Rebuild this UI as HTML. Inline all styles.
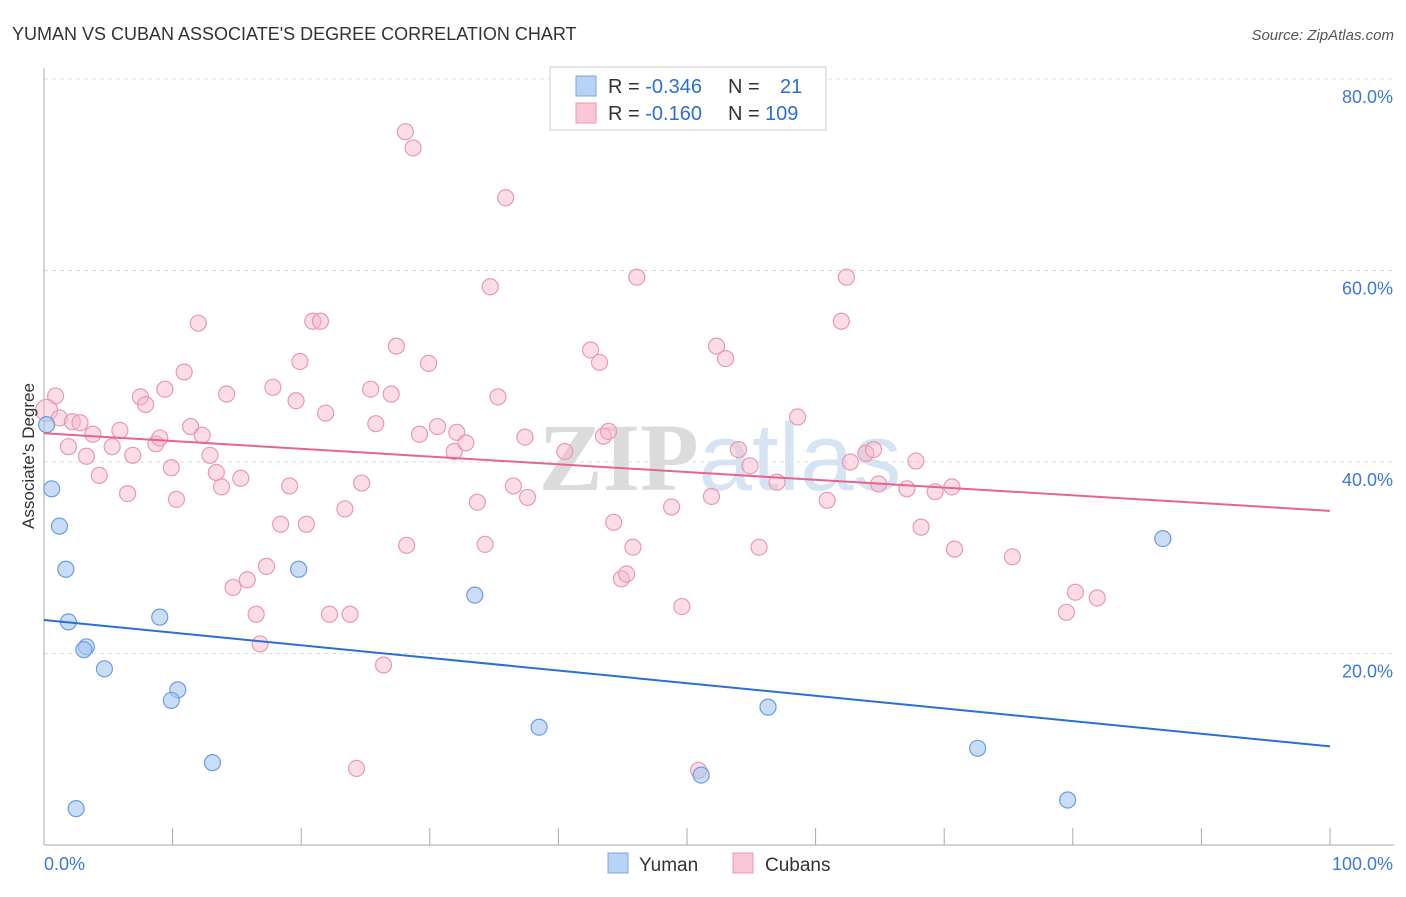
<!DOCTYPE html>
<html><head><meta charset="utf-8"><style>
body{margin:0;background:#fff;font-family:"Liberation Sans",sans-serif}
svg text{font-family:"Liberation Sans",sans-serif}
</style></head><body>
<svg id="chart" width="1406" height="892" xmlns="http://www.w3.org/2000/svg">
<text x="12" y="40" font-size="18" fill="#333">YUMAN VS CUBAN ASSOCIATE'S DEGREE CORRELATION CHART</text>
<text x="1394" y="40" font-size="15" fill="#555" font-style="italic" text-anchor="end">Source: ZipAtlas.com</text>
<text x="720" y="490" font-size="96" text-anchor="middle" fill="#ddd" opacity="0.7"><tspan font-family="Liberation Serif" font-weight="bold" fill="#ccc">ZIP</tspan><tspan fill="#c5d8ee">atlas</tspan></text>
<g id="grid"></g><g id="axes"></g><g id="marks"></g>
<text transform="translate(34,456) rotate(-90)" font-size="17" fill="#333" text-anchor="middle">Associate's Degree</text>
<g>
<rect x="550" y="67" width="276" height="63" fill="#fff" stroke="#ccc"/>
<rect x="576" y="76" width="20" height="20" fill="#b8d2f4" stroke="#7aa7e0"/>
<rect x="576" y="103" width="20" height="20" fill="#f9c6d6" stroke="#e899b4"/>
<text x="608" y="93" font-size="20" fill="#333">R = <tspan fill="#2a6fd6">-0.346</tspan><tspan x="728">N = </tspan><tspan x="780" fill="#2a6fd6">21</tspan></text>
<text x="608" y="120" font-size="20" fill="#333">R = <tspan fill="#2a6fd6"> -0.160</tspan><tspan x="728">N = </tspan><tspan x="765" fill="#2a6fd6">109</tspan></text>
</g>
<g>
<rect x="608" y="853" width="20" height="20" fill="#b8d2f4" stroke="#7aa7e0"/>
<text x="639" y="871" font-size="19" fill="#333">Yuman</text>
<rect x="733" y="853" width="20" height="20" fill="#f9c6d6" stroke="#e899b4"/>
<text x="765" y="871" font-size="19" fill="#333">Cubans</text>
</g>
</svg>
<script>
const yumanX=[0.2,0.6,1.2,1.7,1.9,3.3,3.1,4.7,9.0,10.4,9.9,13.1,2.5,19.8,33.5,38.5,51.1,56.3,72.6,79.6,87.0];
const yumanY=[43.9,37.2,33.3,28.8,23.3,20.7,20.4,18.4,23.8,16.2,15.1,8.6,3.8,28.8,26.1,12.3,7.3,14.4,10.1,4.7,32.0];
const cubanX=[0.9,0.2,1.2,2.2,2.8,1.9,3.8,3.3,4.3,5.3,5.9,6.9,6.5,7.5,7.9,8.7,9.0,9.4,9.9,10.3,10.9,11.4,12.0,12.3,12.9,13.4,13.8,14.2,15.3,14.7,15.8,16.5,16.8,17.3,17.8,18.4,19.1,19.6,19.9,20.4,20.9,21.5,21.9,22.2,23.4,23.8,24.3,24.7,25.4,25.8,26.4,27.0,27.4,28.1,28.2,28.7,29.2,29.9,30.6,31.9,32.1,32.8,33.7,34.3,34.7,35.3,35.9,36.5,37.6,37.4,40.5,42.5,43.2,43.5,43.9,44.3,44.9,45.3,45.8,46.1,48.8,49.6,50.9,51.9,52.3,53.0,54.0,54.9,55.6,57.0,58.6,60.9,62.0,62.4,62.7,63.9,64.5,64.9,67.1,67.8,68.2,69.3,70.6,70.8,75.3,79.5,80.2,81.9];
const cubanY=[46.9,45.4,44.6,44.2,44.1,41.6,42.9,40.6,38.6,41.6,43.3,40.7,36.7,46.8,46.0,41.9,42.5,47.6,39.4,36.1,49.4,43.7,54.5,42.8,40.7,38.9,37.4,47.1,38.3,26.9,27.7,24.1,21.0,29.1,47.8,33.5,37.5,46.4,50.5,33.5,54.7,54.7,45.1,24.1,35.1,24.1,8.0,37.8,47.6,44.0,18.8,47.1,52.1,74.5,31.3,72.8,42.9,50.3,43.7,41.1,43.1,42.0,35.8,31.4,58.3,46.8,67.6,37.5,36.3,42.6,41.1,51.7,50.4,42.7,43.2,33.7,27.8,28.3,31.1,59.3,35.3,24.9,7.8,36.4,52.1,50.8,41.3,39.6,31.1,37.9,44.7,36.0,54.7,59.3,40.0,40.9,41.3,37.7,37.2,40.1,33.2,36.9,37.4,30.9,30.1,24.3,26.4,25.8];
const yumanTrend=[23.5,10.3];
const cubanTrend=[43.0,34.9];
const yTicks=[20,40,60,80];
const yTickLabels=["20.0%","40.0%","60.0%","80.0%"];
const xTicks=[0,10,20,30,40,50,60,70,80,90,100];
const xEndLabels=["0.0%","100.0%"];

const NS="http://www.w3.org/2000/svg";
const X=v=>44+v*12.86;
const Y=v=>845-v*9.575;
function mk(tag,attrs,parent){const e=document.createElementNS(NS,tag);for(const k in attrs)e.setAttribute(k,attrs[k]);parent.appendChild(e);return e;}
const grid=document.getElementById('grid'),axes=document.getElementById('axes'),marks=document.getElementById('marks');
yTicks.forEach((t,i)=>{
 const l=mk('line',{x1:44,x2:1394,y1:Y(t),y2:Y(t),stroke:'#ddd','stroke-dasharray':'4,4'},grid);
 
 
 const tx=mk('text',{x:1393,y:Y(t)+24,'font-size':18,fill:'#3b78d8','text-anchor':'end'},axes);
 tx.textContent=yTickLabels[i];
 
 
});
const topLine=mk('line',{x1:44,x2:1394,y1:79,y2:79,stroke:'#ddd','stroke-dasharray':'4,4'},grid);


const ya=mk('line',{x1:44,x2:44,y1:68,y2:845,stroke:'#aaa'},axes);


const xa=mk('line',{x1:44,x2:1394,y1:845,y2:845,stroke:'#aaa'},axes);


xTicks.forEach(t=>{
 const l=mk('line',{x1:X(t),x2:X(t),y1:828,y2:845,stroke:'#aaa'},axes);
 
 
});
const xl0=mk('text',{x:44,y:870,'font-size':18,fill:'#3b78d8'},axes);xl0.textContent=xEndLabels[0];


const xl1=mk('text',{x:1393,y:870,'font-size':18,fill:'#3b78d8','text-anchor':'end'},axes);xl1.textContent=xEndLabels[1];


cubanX.forEach((v,i)=>{
 const c=mk('circle',{cx:X(v),cy:Y(cubanY[i]),r:i==1?11:8,fill:'rgba(248,180,202,0.45)',stroke:'#ea98b4','stroke-width':1.2},marks);
 
 
});
yumanX.forEach((v,i)=>{
 const c=mk('circle',{cx:X(v),cy:Y(yumanY[i]),r:8,fill:'rgba(165,198,242,0.6)',stroke:'#6b9de0','stroke-width':1.2},marks);
 
 
});
const tc=mk('line',{x1:X(0),x2:X(100),y1:Y(cubanTrend[0]),y2:Y(cubanTrend[1]),stroke:'#e8648f','stroke-width':2},marks);


const ty=mk('line',{x1:X(0),x2:X(100),y1:Y(yumanTrend[0]),y2:Y(yumanTrend[1]),stroke:'#2a6fd6','stroke-width':2},marks);


</script>
</body></html>
